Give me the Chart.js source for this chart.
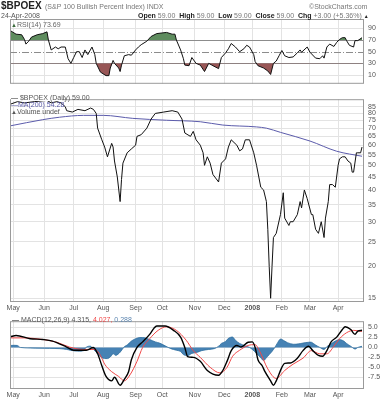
<!DOCTYPE html>
<html>
<head>
<meta charset="utf-8">
<script src="https://cdn.jsdelivr.net/npm/chart.js@4.4.1/dist/chart.umd.min.js"></script>
<style>
  html, body { margin: 0; padding: 0; background: #fff; }
  #page { position: relative; width: 388px; height: 400px; overflow: hidden; font-family: "Liberation Sans", Arial, sans-serif; color: #333; }
  #page canvas { position: absolute; left: 0; }
  .txt { position: absolute; white-space: nowrap; line-height: 1; }
  .lg { background: #fff; padding: 0 1px 0 0; }
</style>
</head>
<body>
<div id="page">
  <canvas id="rsiChart" width="388" height="92" style="top:0"></canvas>
  <canvas id="mainChart" width="388" height="222" style="top:91px"></canvas>
  <canvas id="macdChart" width="388" height="87" style="top:313px"></canvas>

  <div class="txt" style="left:1px;top:1px;font-size:10px;font-weight:bold;color:#222">$BPOEX</div>
  <div class="txt" style="left:45px;top:3px;font-size:7px;color:#777">(S&amp;P 100 Bullish Percent Index) INDX</div>
  <div class="txt" style="left:309px;top:3px;font-size:7px;color:#777">&copy;StockCharts.com</div>
  <div class="txt" style="left:1px;top:12px;font-size:7px;color:#555">24-Apr-2008</div>
  <div class="txt" style="left:138px;top:12px;font-size:7px;color:#777"><b style="color:#222">Open</b> 59.00 &nbsp;<b style="color:#222">High</b> 59.00 &nbsp;<b style="color:#222">Low</b> 59.00 &nbsp;<b style="color:#222">Close</b> 59.00 &nbsp;<b style="color:#222">Chg</b> +3.00 (+5.36%) <span style="font-size:5px;color:#222">&#9650;</span></div>

  <div class="txt" style="left:11px;top:21px;font-size:7px;color:#666"><span style="color:#3a6a3a;font-size:6px">&#9650;</span>RSI(14) 73.69</div>

  <div class="txt lg" style="left:11px;top:93px;height:7px;font-size:7px;color:#555;padding-top:1px;width:50px;overflow:visible"><span style="color:#222">&#8212;</span> $BPOEX (Daily) 59.00</div>
  <div class="txt" style="left:11px;top:101px;font-size:7px;color:#5a5aa8"><span>&#8212;</span>MA(200) 54.28</div>
  <div class="txt" style="left:11px;top:108px;font-size:7px;color:#555"><span style="font-size:6px">&#9650;</span>Volume undef</div>

  <div class="txt" style="left:12px;top:316px;font-size:7px;color:#555"><span style="color:#000">&#8212;</span> MACD(12,26,9) 4.315, <span style="color:#f04848">4.027,</span> <span style="color:#5d86b0">0.288</span></div>
</div>

<script>
const FONT = "Liberation Sans";

// x axis: trading-day index, 0 = 1-May-2007
const X_MIN = -2.3;
const X_MAX = 249.4;
const monthDay = [0, 22, 43, 64, 87, 106, 129, 150, 170, 191, 211, 231];
const monthLabel = ["May", "Jun", "Jul", "Aug", "Sep", "Oct", "Nov", "Dec", "2008", "Feb", "Mar", "Apr"];

// $BPOEX daily
const bpoexDay = [-2, 3, 8, 15, 24, 27, 31, 34, 37, 38, 42, 46, 51, 55, 57, 59, 60, 63, 65, 67, 70, 71, 72, 74, 76, 77, 78, 81, 84, 87, 88, 91, 95, 98, 101, 107, 113, 117, 120, 122, 126, 128, 130, 133, 135, 136, 138, 140, 142, 146, 148, 151, 153, 155, 159, 161, 163, 165, 168, 171, 173, 176, 178, 180, 181, 182, 183, 184, 185, 187, 190, 192, 193, 196, 197, 199, 202, 204, 205, 207, 209, 212, 213, 215, 217, 219, 221, 222, 224, 225, 227, 229, 231, 232, 234, 236, 238, 240, 241, 242, 244, 245, 247, 248];
const bpoexValue = [87, 89, 88, 89, 90, 88, 89, 88, 85, 82, 81, 83, 82, 84, 83, 80, 70, 63, 59, 54, 61, 59, 52, 45, 36, 44, 51, 56, 58, 60, 65, 66, 70, 76, 80, 81, 82, 81, 76, 67, 65, 68, 63, 60, 56, 50, 54, 51, 46, 43, 51, 53, 59, 63, 60, 57, 58, 63, 63, 56, 50, 41, 40, 36, 28, 20, 15, 20, 26, 27, 32, 39, 31, 29, 30, 30, 32, 36, 34, 40, 37, 32, 32, 28, 27, 30, 26, 31, 36, 42, 42, 41, 50, 53, 54, 54, 52, 51, 47, 47, 56, 56, 56, 59];

// MA(200)
const maDay = [-2, 21, 33, 50, 64, 85, 109, 133, 149, 173, 180, 190, 211, 230, 248];
const maValue = [71.5, 75.6, 77.3, 78.6, 78.6, 76.5, 75.2, 74.2, 72.0, 70.8, 70.0, 67.4, 62.3, 56.8, 54.28];

// RSI(14)
const rsiDay = [-2, 2, 6, 8, 9, 11, 13, 17, 21, 24, 25, 27, 30, 32, 34, 37, 39, 41, 43, 45, 47, 49, 51, 53, 56, 58, 59, 62, 66, 68, 69, 71, 72, 75, 76, 77, 79, 82, 84, 87, 89, 91, 95, 98, 102, 109, 113, 115, 116, 119, 121, 122, 125, 127, 130, 133, 136, 139, 142, 146, 148, 151, 153, 155, 158, 161, 164, 166, 168, 171, 172, 174, 178, 181, 183, 185, 187, 189, 191, 193, 196, 199, 202, 204, 205, 209, 211, 215, 218, 220, 221, 223, 225, 228, 230, 232, 234, 236, 237, 239, 242, 243, 245, 248];
const rsiValue = [86, 80, 79, 71, 63, 68, 75, 79, 81, 84, 70, 53, 58, 55, 58, 58, 38, 30, 40, 50, 50, 40, 53, 45, 58, 45, 30, 15, 9, 9, 22, 35, 30, 22, 16, 27, 43, 45, 44, 53, 58, 62, 68, 76, 81, 83, 80, 80, 70, 53, 38, 27, 26, 40, 30, 27, 16, 30, 26, 21, 40, 48, 55, 64, 58, 50, 55, 61, 58, 45, 33, 26, 22, 17, 11, 30, 34, 43, 52, 43, 40, 41, 48, 53, 49, 58, 49, 39, 38, 43, 39, 58, 63, 59, 66, 71, 74, 74, 69, 61, 58, 69, 69, 74];
const rsiTicks = [10, 30, 50, 70, 90];
const rsiBands = [30, 50, 70];

// MACD(12,26,9)
const macdDay = [-2, 2, 12, 21, 28, 38, 43, 52, 57, 60, 63, 66, 70, 72, 76, 79, 82, 84, 88, 92, 97, 100, 102, 108, 114, 119, 122, 124, 128, 133, 138, 146, 149, 152, 155, 159, 162, 167, 170, 172, 174, 177, 179, 183, 185, 187, 191, 193, 197, 202, 206, 210, 213, 217, 220, 223, 226, 230, 234, 236, 240, 243, 245, 248];
const macdValue = [2.7, 3.0, 2.2, 2.0, 1.6, 0.1, -0.7, -0.7, 0, -1.6, -4.6, -7.3, -8.4, -7.5, -9.5, -8.0, -6.1, -3.1, 0, 1.4, 3.3, 4.8, 5.4, 5.4, 4.3, 2.6, 0, -2.3, -2.5, -3.5, -5.8, -7.0, -5.8, -3.5, -0.8, 0.5, 0.1, 1.3, 1.4, 0, -3.1, -4.6, -6.1, -8.4, -9.5, -8.4, -5.0, -4.0, -3.9, -2.7, -0.8, 0.3, -0.8, -2.0, -2.2, -0.8, 1.4, 2.6, 4.5, 5.2, 4.5, 3.3, 4.1, 4.315];
const signalDay = [-2, 7, 21, 31, 40, 50, 58, 62, 65, 70, 75, 79, 83, 88, 92, 97, 103, 109, 116, 123, 128, 133, 140, 147, 152, 156, 161, 167, 172, 175, 181, 187, 193, 199, 206, 212, 218, 223, 228, 232, 237, 242, 248];
const signalValue = [2.4, 2.4, 2.0, 1.3, 0.1, -0.5, -0.5, -2.0, -4.2, -6.1, -7.3, -8.4, -6.9, -3.5, 0, 2.2, 4.3, 5.2, 4.3, 1.8, -0.8, -2.5, -5.0, -6.4, -5.0, -2.2, -0.7, 0.5, 0.7, -0.8, -5.4, -7.8, -5.8, -4.2, -2.7, -0.8, -1.6, -1.6, 0.3, 2.2, 3.7, 4.3, 4.027];
const histDay = [-2, 3, 5, 19, 33, 38, 44, 50, 52, 55, 57, 60, 63, 67, 69, 71, 73, 76, 79, 81, 84, 87, 90, 94, 97, 101, 104, 108, 112, 116, 119, 121, 124, 127, 131, 134, 139, 143, 146, 148, 151, 153, 156, 158, 161, 165, 168, 170, 173, 176, 178, 180, 182, 184, 186, 188, 190, 193, 195, 199, 203, 206, 210, 212, 215, 218, 221, 223, 226, 229, 232, 235, 237, 240, 243, 245, 248];
const histValue = [0.5, 0.5, 0, -0.2, -0.3, -0.5, -0.9, -0.8, 0.1, 0.3, -0.5, -1.5, -2.6, -2.8, -2.4, -1.6, -2.0, -1.2, 0.2, 0.6, 1.6, 2.2, 2.5, 2.4, 2.0, 1.4, 1.1, 0.4, -0.3, -0.7, -1.0, -1.8, -2.1, -1.5, -1.2, -0.8, -0.5, -0.3, 0.3, 1.0, 1.5, 2.3, 2.6, 1.8, 1.0, 0.4, 0, -0.5, -1.5, -2.6, -3.3, -2.6, -1.8, -1.0, 0, 1.2, 2.1, 1.6, 1.2, 0.8, 0.9, 1.1, 1.3, 1.3, 0.6, 0, -0.5, 0.2, 0.9, 1.6, 2.0, 1.6, 1.0, 0.3, -0.4, 0, 0.29];
const macdTicks = [-7.5, -5, -2.5, 0, 2.5, 5];

const priceTicks = [15, 20, 25, 30, 35, 40, 45, 50, 55, 60, 65, 70, 75, 80, 85];

function points(days, values) {
  return days.map((d, i) => ({ x: d, y: values[i] }));
}

const framePlugin = {
  id: "frame",
  afterDraw(chart) {
    const { ctx, chartArea: a } = chart;
    ctx.save();
    ctx.strokeStyle = "#9a9a9a";
    ctx.lineWidth = 1;
    ctx.strokeRect(a.left + 0.5, a.top + 0.5, a.right - a.left - 1, a.bottom - a.top - 1);
    ctx.restore();
  },
};

const rsiLinesPlugin = {
  id: "rsiLines",
  beforeDatasetsDraw(chart) {
    const { ctx, chartArea: a } = chart;
    const y = chart.scales.y;
    ctx.save();
    ctx.strokeStyle = "#8c8c8c";
    ctx.lineWidth = 1;
    rsiBands.forEach((level) => {
      const py = Math.round(y.getPixelForValue(level)) + 0.5;
      ctx.setLineDash(level === 50 ? [7, 2, 1, 2] : []);
      ctx.beginPath();
      ctx.moveTo(a.left, py);
      ctx.lineTo(a.right, py);
      ctx.stroke();
    });
    ctx.restore();
  },
};

function xAxis(showLabels) {
  return {
    type: "linear",
    min: X_MIN,
    max: X_MAX,
    afterBuildTicks: (axis) => {
      axis.ticks = monthDay.map((v) => ({ value: v }));
    },
    afterFit: (axis) => {
      axis.height = showLabels ? 11 : 0;
    },
    grid: { color: "#e3e3e3", drawTicks: false },
    border: { display: false },
    ticks: {
      display: showLabels,
      autoSkip: false,
      maxRotation: 0,
      padding: 2,
      color: "#555",
      font: (ctx) => ({
        family: FONT,
        size: 7,
        weight: ctx.tick && ctx.tick.value === 170 ? "bold" : "normal",
      }),
      callback: (value) => monthLabel[monthDay.indexOf(value)],
    },
  };
}

function yAxis(opts) {
  return {
    position: "right",
    afterFit: (axis) => {
      axis.width = 24;
    },
    border: { display: false },
    grid: { color: opts.gridColor || "#e3e3e3", drawTicks: false },
    ticks: {
      color: "#555",
      font: { family: FONT, size: 7 },
      padding: 4,
      callback: opts.format,
    },
    afterBuildTicks: (axis) => {
      axis.ticks = opts.ticks.map((v) => ({ value: v }));
    },
    type: opts.type || "linear",
    min: opts.min,
    max: opts.max,
  };
}

const common = {
  responsive: false,
  animation: false,
  devicePixelRatio: 1,
  plugins: { legend: { display: false }, tooltip: { enabled: false } },
  elements: { point: { radius: 0 } },
};

// RSI panel
new Chart(document.getElementById("rsiChart"), {
  type: "line",
  data: {
    datasets: [
      {
        data: points(rsiDay, rsiValue),
        borderColor: "#111",
        borderWidth: 1,
        fill: false,
        order: 0,
      },
      {
        data: points(rsiDay, rsiValue),
        borderWidth: 0,
        fill: { target: { value: 70 }, above: "#5e8c5e", below: "rgba(0,0,0,0)" },
        order: 1,
      },
      {
        data: points(rsiDay, rsiValue),
        borderWidth: 0,
        fill: { target: { value: 30 }, above: "rgba(0,0,0,0)", below: "#985656" },
        order: 2,
      },
    ],
  },
  options: {
    ...common,
    layout: { padding: { left: 10, right: 0, top: 19, bottom: 0 } },
    scales: {
      x: xAxis(false),
      y: yAxis({
        min: -5,
        max: 106,
        ticks: rsiTicks,
        format: (v) => String(v),
        gridColor: (ctx) => (ctx.tick && rsiBands.includes(ctx.tick.value) ? "rgba(0,0,0,0)" : "#e3e3e3"),
      }),
    },
  },
  plugins: [rsiLinesPlugin, framePlugin],
});

// price panel
new Chart(document.getElementById("mainChart"), {
  type: "line",
  data: {
    datasets: [
      {
        data: points(bpoexDay, bpoexValue),
        borderColor: "#111",
        borderWidth: 1,
        tension: 0,
        order: 0,
      },
      {
        data: points(maDay, maValue),
        borderColor: "#5b5bab",
        borderWidth: 1,
        cubicInterpolationMode: "monotone",
        order: 1,
      },
    ],
  },
  options: {
    ...common,
    layout: { padding: { left: 10, right: 0, top: 1, bottom: 0 } },
    scales: {
      x: xAxis(true),
      y: yAxis({
        type: "logarithmic",
        min: 14.5,
        max: 91,
        ticks: priceTicks,
        format: (v) => String(v),
      }),
    },
  },
  plugins: [framePlugin],
});

// MACD panel
new Chart(document.getElementById("macdChart"), {
  type: "line",
  data: {
    datasets: [
      {
        data: points(macdDay, macdValue),
        borderColor: "#000",
        borderWidth: 1.4,
        cubicInterpolationMode: "monotone",
        order: 0,
      },
      {
        data: points(signalDay, signalValue),
        borderColor: "#f04848",
        borderWidth: 1,
        cubicInterpolationMode: "monotone",
        order: 1,
      },
      {
        data: points(histDay, histValue),
        borderColor: "#2f6f9f",
        borderWidth: 0.8,
        backgroundColor: "#4682b4",
        fill: "origin",
        tension: 0.3,
        order: 2,
      },
    ],
  },
  options: {
    ...common,
    layout: { padding: { left: 10, right: 0, top: 1, bottom: 0 } },
    scales: {
      x: xAxis(true),
      y: yAxis({
        min: -10.45,
        max: 6.6,
        ticks: macdTicks,
        format: (v) => v.toFixed(1),
      }),
    },
  },
  plugins: [framePlugin],
});
</script>
</body>
</html>
